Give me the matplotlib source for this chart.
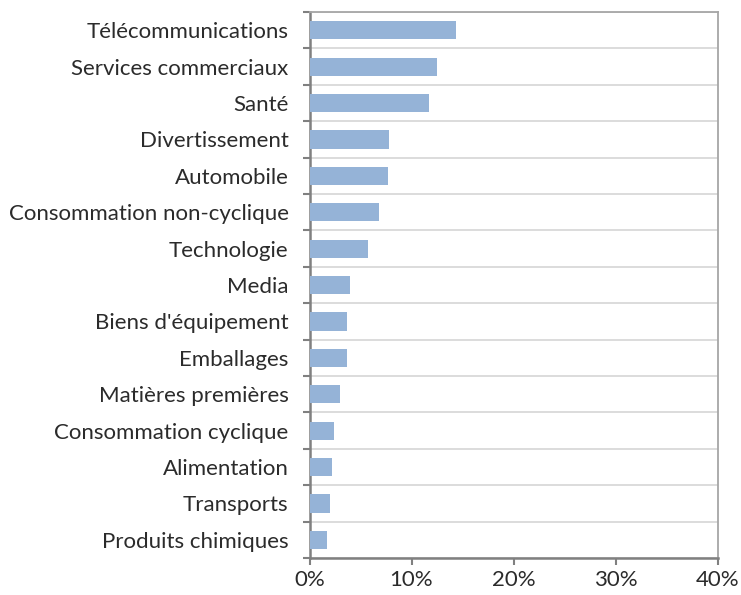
import matplotlib
matplotlib.use("Agg")
import matplotlib.pyplot as plt
from matplotlib.ticker import FuncFormatter, FixedLocator

categories = ["Télécommunications", "Services commerciaux", "Santé", "Divertissement",
              "Automobile", "Consommation non-cyclique", "Technologie", "Media",
              "Biens d'équipement", "Emballages", "Matières premières",
              "Consommation cyclique", "Alimentation", "Transports", "Produits chimiques"]
values = [14.4, 12.5, 11.7, 7.75, 7.7, 6.8, 5.7, 4.0, 3.7, 3.65, 2.95, 2.4, 2.2, 2.0, 1.7]
xticks = [0, 10, 20, 30, 40]

plt.rcParams['font.family'] = ['Lato', 'DejaVu Sans']

fig = plt.figure(figsize=(7.41, 5.95), dpi=100)
ax = fig.add_axes([309.5/741, 1-558/595, (717.5-309.5)/741, (558-12)/595])

n = len(categories)
pos = list(range(n))
ax.barh(pos, values, height=0.5, color="#95B3D7", edgecolor="none", zorder=3)
ax.set_ylim(n-0.5, -0.5)
ax.set_xlim(0, 40)
ax.set_yticks(pos)
ax.set_yticklabels(categories, fontsize=16, color="#2b2b2b")
ax.yaxis.set_minor_locator(FixedLocator([i - 0.5 for i in range(n + 1)]))
ax.tick_params(axis='y', which='major', length=0, pad=15)
ax.tick_params(axis='y', which='minor', length=5, width=1.5, color="#808080", direction='out')
ax.grid(axis='y', which='minor', color="#d9d9d9", linewidth=1.3, zorder=0)
ax.set_xticks(xticks)
ax.xaxis.set_major_formatter(FuncFormatter(lambda v, p: f"{v:.0f}%"))
ax.tick_params(axis='x', length=5, width=1.5, color="#808080", labelsize=16,
               labelcolor="#2b2b2b", pad=4)
for s in ['left', 'bottom']:
    ax.spines[s].set_color("#808080")
    ax.spines[s].set_linewidth(1.8)
for s in ['top', 'right']:
    ax.spines[s].set_color("#a6a6a6")
    ax.spines[s].set_linewidth(1.3)

fig.savefig("out.png", dpi=100)
